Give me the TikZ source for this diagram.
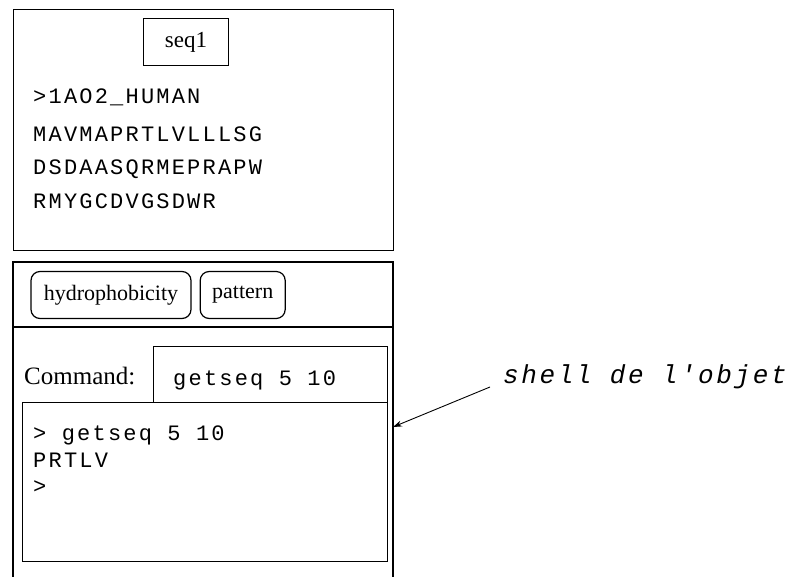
\documentclass[tikz,border=0pt]{standalone}
\usepackage{fontspec}
\setmainfont{Liberation Serif}
\newfontfamily\seqfont[LetterSpace=10]{Liberation Mono}
\usetikzlibrary{arrows.meta,positioning}
\tikzset{
  panel/.style={
    draw,
    line width=1.2pt,
    inner sep=0pt
  },
  tabbox/.style={
    panel,
    minimum width=85pt,
    minimum height=47pt,
    font=\fontsize{23}{26}\selectfont
  },
  button/.style={
    panel,
    rounded corners=9pt,
    minimum height=47pt,
    font=\fontsize{22}{24}\selectfont
  },
  seqline/.style={
    anchor=base west,
    inner sep=0pt,
    font=\seqfont\fontsize{22}{26}\selectfont
  },
  note/.style={
    anchor=west,
    inner sep=0pt,
    font=\seqfont\itshape\fontsize{26}{28}\selectfont
  },
  pointer/.style={
    -{Stealth[length=9pt,width=6pt]},
    line width=0.9pt
  }
}

\begin{document}
\begin{tikzpicture}[x=1pt, y=-1pt]
  \useasboundingbox (0,0) rectangle (789,577);

  % sequence viewer
  \node[panel, anchor=north west, minimum width=380pt, minimum height=241pt] (seqpanel) at (13,9) {};
  \node[tabbox] (seqname) at (186,42) {seq1};
  \foreach \txt/\ypos in {>1AO2\_HUMAN/104, MAVMAPRTLVLLLSG/142, DSDAASQRMEPRAPW/175, RMYGCDVGSDWR/209}
    \node[seqline] at (33,\ypos) {\txt};

  % object shell
  \draw[line width=1.2pt] (13,577) |- (393,262) -- (393,577);
  \node[button, minimum width=160pt] (hydro) at (111,295) {hydrophobicity};
  \node[button, minimum width=85pt, right=8pt of hydro] (pattern) {pattern};
  \draw[line width=1.2pt] (13,327) -- (393,327);

  \node[anchor=west, inner sep=2pt, font=\fontsize{25}{28}\selectfont] (cmdlabel) at (22,376) {Command:};
  \node[panel, anchor=north west, minimum width=234pt, minimum height=56pt] (cmdbox) at (153,346) {};
  \node[seqline] (cmdtext) at (173,385) {getseq 5 10};
  \node[panel, anchor=north west, minimum width=365pt, minimum height=159pt] (shell) at (22,402) {};
  \foreach \txt/\ypos in {> getseq 5 10/440, PRTLV/467, >/493}
    \node[seqline] at (33,\ypos) {\txt};

  % annotation
  \node[note] (shellnote) at (503,377) {shell de l'objet};
  \coordinate (shelltip) at (393,427);
  \coordinate (notefoot) at (490,387);
  \draw[pointer] (notefoot) -- (shelltip);
\end{tikzpicture}
\end{document}
